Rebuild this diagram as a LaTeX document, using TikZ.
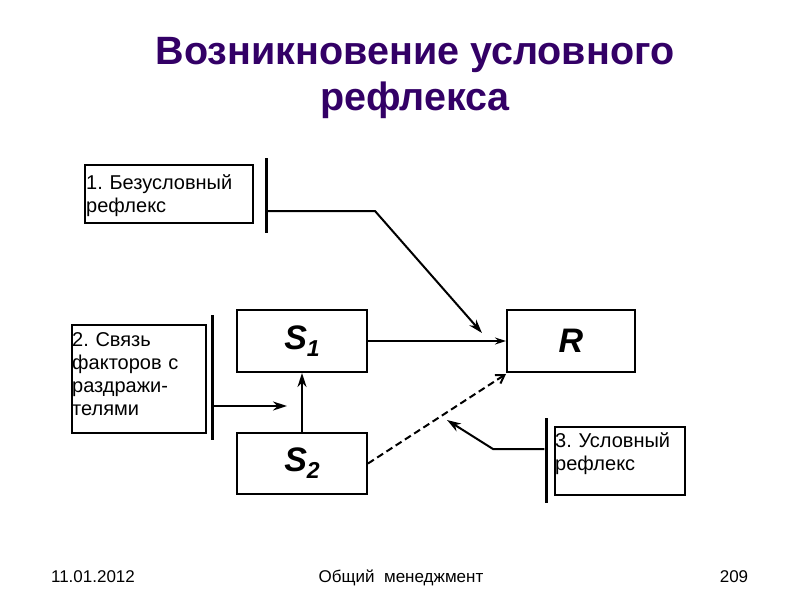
\documentclass[tikz,border=0pt]{standalone}
\usepackage{fontspec}
\setmainfont{Liberation Sans}
\usetikzlibrary{arrows.meta}
\definecolor{titlecol}{RGB}{51,0,102}
\frenchspacing

\tikzset{
  box/.style={draw,line width=2pt,inner sep=0pt},
  boxtext/.style={inner sep=0pt,anchor=base west,align=left,text width=260pt,font=\fontsize{20}{23}\selectfont},
  bar/.style={fill=black,inner sep=0pt,minimum width=3pt},
  conn/.style={line width=2pt,-{Stealth[length=14pt,width=9pt]}},
  foot/.style={anchor=base,font=\fontsize{17}{17}\selectfont},
}
\newcommand{\sig}[2]{\fontsize{34}{34}\selectfont\bfseries\itshape #1\raisebox{-7pt}{\fontsize{23}{23}\selectfont #2}}

\begin{document}
\begin{tikzpicture}[x=1pt,y=-1pt]
  \useasboundingbox (0,0) rectangle (800,600);
  \node[text=titlecol,font=\fontsize{39.5}{46}\selectfont\bfseries,align=center] (title) at (415,78) {Возникновение условного\\рефлекса};

  \node[box,minimum width=168,minimum height=58] (uncond) at (169,194) {};
  \node[boxtext] (uncondtxt) at ([xshift=2pt,yshift=-25pt]uncond.north west) {1. Безусловный\\рефлекс};
  \node[bar,minimum height=75] (bar1) at (266,195.5) {};

  \node[box,minimum width=134,minimum height=108] (link) at (139,379) {};
  \node[boxtext] (linktxt) at ([xshift=1pt,yshift=-22pt]link.north west) {2. Связь\\факторов с\\раздражи-\\телями};
  \node[bar,minimum height=125] (bar2) at (212,377.5) {};

  \node[box,minimum width=130,minimum height=68] (cond) at (620,461) {};
  \node[boxtext] (condtxt) at ([xshift=1pt,yshift=-21pt]cond.north west) {3. Условный\\рефлекс};
  \node[bar,minimum height=85] (bar3) at (546,460.5) {};

  \node[box,minimum width=130,minimum height=62] (s1) at (302,341) {\sig{S}{1}};
  \node[box,minimum width=130,minimum height=61] (s2) at (302,463.5) {\sig{S}{2}};
  \node[box,minimum width=128,minimum height=62] (r) at (571,341) {\fontsize{34}{34}\selectfont\bfseries\itshape R};

  \coordinate (k1) at (375,211);
  \coordinate (tip1) at (482,333);
  \coordinate (tip2) at (287,406);
  \coordinate (k3) at (493,449);
  \coordinate (tip3) at (447,420);

  \draw[conn] (bar1.east|-k1) -- (k1) -- (tip1);
  \draw[conn] (bar2.east|-tip2) -- (tip2);
  \draw[conn] (bar3.west|-k3) -- (k3) -- (tip3);
  \draw[conn] (s2) -- (s1);
  \draw[line width=1.5pt,-{Stealth[length=11pt,width=7pt]}] (s1) -- (r);
  \draw[line width=2pt,dash pattern=on 7pt off 4pt,-{Straight Barb[length=8pt,width=10pt]}] (s2.east) -- ([yshift=-1pt]r.south west);

  \node[foot] (date) at (93,582) {11.01.2012};
  \node[foot] (course) at (401,582) {Общий\ \ менеджмент};
  \node[foot] (page) at (734,582) {209};
\end{tikzpicture}
\end{document}
